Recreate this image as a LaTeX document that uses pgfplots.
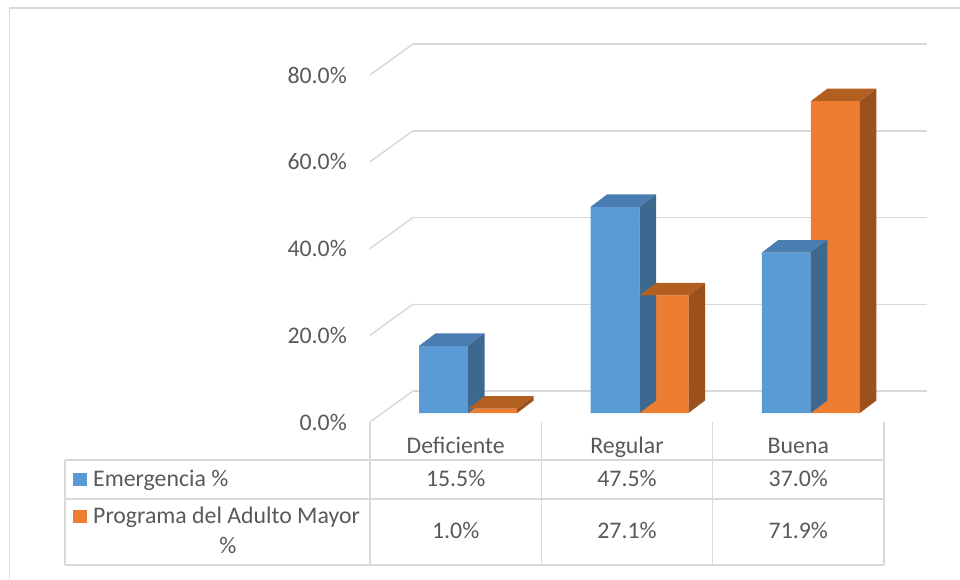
\documentclass[border=0pt]{standalone}
\usepackage{pgfplots}
\pgfplotsset{compat=1.18}
\usepackage{pgfplotstable}
\usepackage{fontspec}
\setmainfont{Carlito}
\definecolor{gridc}{HTML}{D9D9D9}
\definecolor{textc}{HTML}{595959}
\definecolor{bfront}{HTML}{5B9BD5}
\definecolor{btop}{HTML}{4A7EB2}
\definecolor{bside}{HTML}{3D6991}
\definecolor{ofront}{HTML}{ED7D31}
\definecolor{otop}{HTML}{B45F22}
\definecolor{oside}{HTML}{9C511C}

\pgfplotstableread{
x v
0 15.5
1 47.5
2 37.0
}\emerg
\pgfplotstableread{
x v
0 1.0
1 27.1
2 71.9
}\prog

\newcommand{\declareprism}[5]{%
\pgfdeclareplotmark{#1}{%
 \pgfmathsetmacro{\hh}{\val*4.3375}%
 \pgfsetfillcolor{#4}%
 \pgfpathmoveto{\pgfpoint{#2pt}{-22pt}}%
 \pgfpathlineto{\pgfpoint{#3pt}{-22pt}}%
 \pgfpathlineto{\pgfpoint{#3pt+16.5pt}{-9.5pt}}%
 \pgfpathlineto{\pgfpoint{#2pt+16.5pt}{-9.5pt}}%
 \pgfpathclose\pgfusepath{fill}%
 \pgfsetfillcolor{#5}%
 \pgfpathmoveto{\pgfpoint{#3pt}{-22pt}}%
 \pgfpathlineto{\pgfpoint{#3pt+16.5pt}{-9.5pt}}%
 \pgfpathlineto{\pgfpoint{#3pt+16.5pt}{-9.5pt-\hh pt}}%
 \pgfpathlineto{\pgfpoint{#3pt}{-22pt-\hh pt}}%
 \pgfpathclose\pgfusepath{fill}%
}}
\declareprism{prismb}{-79.5}{-30.5}{btop}{bside}
\declareprism{prismo}{-30.5}{18.5}{otop}{oside}

\begin{document}
\begin{tikzpicture}
\useasboundingbox (0pt,0pt) rectangle (960pt,579pt);
\begin{axis}[
 at={(413pt,188pt)}, anchor=south west, scale only axis,
 width=514pt, height=347pt,
 xmin=-0.5, xmax=2.5, ymin=0, ymax=80,
 xtick=\empty, ytick={0,20,40,60,80},
 axis line style={draw=none}, major tick length=0pt,
 ymajorgrids, grid style={draw=gridc, line width=1.5pt},
 /pgf/number format/assume math mode=true,
 yticklabel={\pgfmathprintnumber[fixed,fixed zerofill,precision=1]{\tick}\%},
 yticklabel style={anchor=east, inner sep=0pt, xshift=-66pt, yshift=-31pt,
   font=\fontsize{23.8}{28}\selectfont, text=textc},
 clip=false,
]
\pgfplotsinvokeforeach{0,20,40,60,80}{
  \draw[gridc, line width=1.5pt, line cap=round] (axis cs:-0.5,#1) -- ++(-43pt,-31pt);
}
\addplot[only marks, mark=prismb, visualization depends on={\thisrow{v}\as\val}] table[x=x,y=v]{\emerg};
\addplot[ybar, bar width=49pt, bar shift=-24.5pt, fill=bfront, draw=none,
  xshift=-30.5pt, yshift=-22pt] table[x=x,y=v]{\emerg};
\addplot[only marks, mark=prismo, visualization depends on={\thisrow{v}\as\val}] table[x=x,y=v]{\prog};
\addplot[ybar, bar width=49pt, bar shift=24.5pt, fill=ofront, draw=none,
  xshift=-30.5pt, yshift=-22pt] table[x=x,y=v]{\prog};
\end{axis}
\begin{scope}[x=1pt,y=1pt, every node/.style={font=\fontsize{23.8}{28}\selectfont, text=textc, inner sep=0pt}]
 \draw[gridc, line width=1.5pt] (9.5,0) -- (9.5,571) -- (960,571);
 \draw[gridc, line width=1.5pt] (65,119) -- (884,119) (65,80) -- (884,80) (65,14) -- (884,14);
 \draw[gridc, line width=1.5pt] (65,119) -- (65,14) (370,157) -- (370,14)
   (541.3,157) -- (541.3,14) (712.7,157) -- (712.7,14) (884,157) -- (884,14);
 \node[anchor=base] at (455.7,126) {Deficiente};
 \node[anchor=base] at (627,126) {Regular};
 \node[anchor=base] at (798.3,126) {Buena};
 \node[anchor=base] at (455.7,93) {15.5\%};
 \node[anchor=base] at (627,93) {47.5\%};
 \node[anchor=base] at (798.3,93) {37.0\%};
 \node[anchor=base] at (455.7,40.3) {1.0\%};
 \node[anchor=base] at (627,40.3) {27.1\%};
 \node[anchor=base] at (798.3,40.3) {71.9\%};
 \fill[bfront] (73,93) rectangle (87,106);
 \fill[ofront] (73,56) rectangle (87,69);
 \node[anchor=base west] at (93,93) {Emergencia \%};
 \node[anchor=base west] at (93,55.7) {Programa del Adulto Mayor};
 \node[anchor=base] at (228,25.7) {\%};
\end{scope}
\end{tikzpicture}
\end{document}
